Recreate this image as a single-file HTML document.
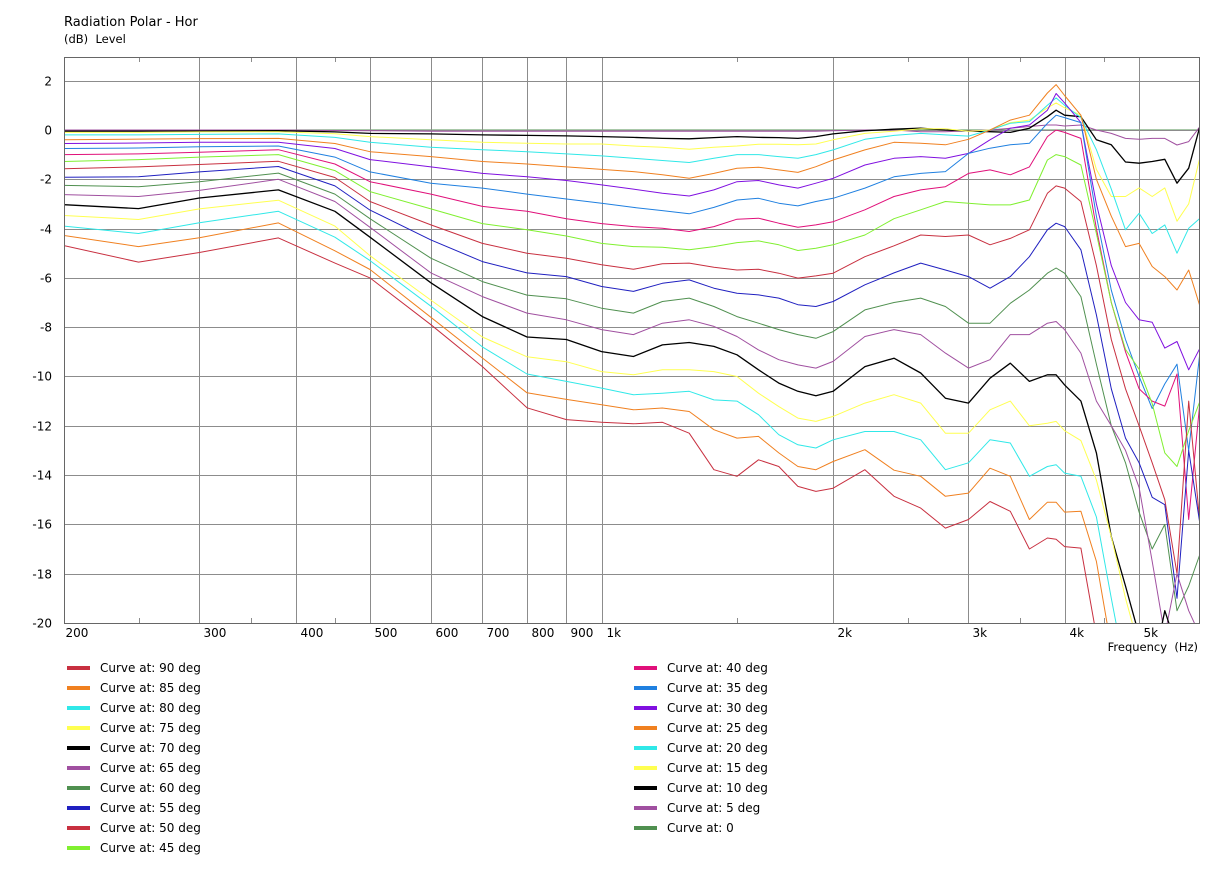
<!DOCTYPE html>
<html><head><meta charset="utf-8"><style>
body{margin:0;background:#fff;}
svg{display:block;font-family:"DejaVu Sans","Liberation Sans",sans-serif;}
</style></head><body>
<svg id="chart" width="1222" height="879" viewBox="0 0 1222 879" xmlns="http://www.w3.org/2000/svg">
<rect width="1222" height="879" fill="#fff"/>
<text x="64" y="26" font-size="13" fill="#000">Radiation Polar - Hor</text>
<text x="64" y="43" font-size="11.5" fill="#000" xml:space="preserve">(dB)  Level</text>
<text x="1198" y="651" font-size="11.5" fill="#000" text-anchor="end" xml:space="preserve">Frequency  (Hz)</text>
<defs><clipPath id="plotclip"><rect x="64" y="57" width="1136" height="566"/></clipPath></defs>
<g id="under" clip-path="url(#plotclip)"></g>
<g id="grid"></g>
<g id="series" clip-path="url(#plotclip)"></g>
<rect x="64.5" y="57.5" width="1135" height="566" fill="none" stroke="#666" stroke-width="1"/>
<g id="legend"></g>
</svg>
<script>
const freqs = [200,250,300,380,450,500,600,700,800,900,1000,1100,1200,1300,1400,1500,1600,1700,1800,1900,2000,2200,2400,2600,2800,3000,3200,3400,3600,3800,3900,4000,4200,4400,4600,4800,5000,5200,5400,5600,5800,6000];
const yTicks = [2,0,-2,-4,-6,-8,-10,-12,-14,-16,-18,-20];
const xTickVals = [200,300,400,500,600,700,800,900,1000,2000,3000,4000,5000];
const xTickLabels = ["200","300","400","500","600","700","800","900","1k","2k","3k","4k","5k"];
const minorTicks = [250,350,450,1500,2500,3500,4500];
const angles = [90,85,80,75,70,65,60,55,50,45,40,35,30,25,20,15,10,5,0];
const colors = ["#c83040","#f08020","#30e8e8","#ffff50","#000000","#a050a0","#509050","#2020c0","#c83040","#80f030","#e0107a","#2080e0","#8010e0","#f08020","#30e8e8","#ffff50","#000000","#a050a0","#509050"];
const c90 = [-4.69,-5.36,-4.97,-4.38,-5.4,-6.0,-7.9,-9.6,-11.27,-11.75,-11.86,-11.92,-11.86,-12.3,-13.78,-14.05,-13.38,-13.65,-14.46,-14.66,-14.53,-13.78,-14.86,-15.34,-16.15,-15.8,-15.07,-15.47,-17.0,-16.55,-16.6,-16.9,-16.96,-20.5,-22,-22,-22,-22,-22,-22,-22,-22];
const c85 = [-4.28,-4.73,-4.37,-3.77,-4.9,-5.66,-7.6,-9.25,-10.66,-10.93,-11.15,-11.35,-11.28,-11.42,-12.16,-12.5,-12.43,-13.1,-13.65,-13.78,-13.45,-12.97,-13.8,-14.05,-14.86,-14.73,-13.72,-14.05,-15.8,-15.1,-15.1,-15.5,-15.47,-17.5,-21,-22,-22,-22,-22,-22,-22,-22];
const c80 = [-3.9,-4.2,-3.76,-3.3,-4.35,-5.3,-7.15,-8.8,-9.9,-10.2,-10.47,-10.74,-10.68,-10.6,-10.95,-11.0,-11.55,-12.36,-12.77,-12.9,-12.57,-12.23,-12.23,-12.57,-13.78,-13.5,-12.57,-12.7,-14.05,-13.65,-13.58,-13.92,-14.05,-15.7,-19,-22,-22,-22,-22,-22,-22,-22];
const c75 = [-3.47,-3.63,-3.2,-2.85,-3.9,-5.1,-6.9,-8.4,-9.2,-9.4,-9.8,-9.93,-9.73,-9.73,-9.8,-10.0,-10.68,-11.22,-11.69,-11.82,-11.62,-11.08,-10.74,-11.08,-12.3,-12.3,-11.35,-11.0,-12.0,-11.9,-11.82,-12.2,-12.6,-14.2,-16.5,-19,-21,-21,-21,-21,-20.5,-21];
const c70 = [-3.03,-3.19,-2.76,-2.43,-3.3,-4.35,-6.2,-7.57,-8.4,-8.5,-8.99,-9.19,-8.72,-8.62,-8.78,-9.12,-9.73,-10.27,-10.6,-10.78,-10.6,-9.6,-9.26,-9.86,-10.88,-11.08,-10.07,-9.46,-10.2,-9.93,-9.93,-10.34,-11.0,-13.1,-16.5,-18.5,-20.5,-22,-19.5,-21,-21,-21];
const c65 = [-2.62,-2.7,-2.45,-2.0,-2.9,-3.95,-5.8,-6.76,-7.43,-7.7,-8.1,-8.3,-7.84,-7.7,-7.97,-8.38,-8.92,-9.32,-9.53,-9.66,-9.39,-8.38,-8.1,-8.3,-9.05,-9.66,-9.32,-8.3,-8.3,-7.84,-7.77,-8.1,-9.05,-11.0,-12.0,-13.0,-14.5,-17.5,-20.5,-18.0,-19.5,-20.5];
const c60 = [-2.25,-2.3,-2.1,-1.75,-2.6,-3.6,-5.2,-6.15,-6.7,-6.85,-7.23,-7.43,-6.96,-6.82,-7.16,-7.57,-7.84,-8.1,-8.3,-8.45,-8.18,-7.3,-7.0,-6.82,-7.16,-7.84,-7.84,-7.03,-6.49,-5.81,-5.6,-5.81,-6.76,-9.5,-12.0,-13.5,-15.5,-17.0,-16.0,-19.5,-18.5,-17.2];
const c55 = [-1.92,-1.9,-1.7,-1.48,-2.27,-3.25,-4.46,-5.34,-5.8,-5.95,-6.35,-6.55,-6.22,-6.08,-6.42,-6.62,-6.69,-6.82,-7.09,-7.16,-6.96,-6.28,-5.8,-5.4,-5.68,-5.95,-6.42,-5.95,-5.14,-4.05,-3.78,-3.92,-4.86,-7.5,-10.5,-12.5,-13.5,-14.9,-15.2,-19,-13,-16];
const c50 = [-1.57,-1.5,-1.4,-1.27,-1.93,-2.9,-3.85,-4.6,-5.0,-5.2,-5.47,-5.65,-5.43,-5.4,-5.57,-5.68,-5.65,-5.81,-6.01,-5.92,-5.81,-5.14,-4.7,-4.26,-4.32,-4.26,-4.66,-4.4,-4.05,-2.57,-2.27,-2.36,-2.9,-5.5,-8.5,-10.5,-12,-13.5,-15,-18,-11,-16];
const c45 = [-1.28,-1.2,-1.1,-1.0,-1.65,-2.5,-3.2,-3.8,-4.05,-4.3,-4.6,-4.73,-4.76,-4.86,-4.73,-4.57,-4.5,-4.66,-4.89,-4.8,-4.66,-4.26,-3.6,-3.24,-2.9,-2.97,-3.04,-3.04,-2.84,-1.22,-1.0,-1.08,-1.42,-4.2,-7.0,-8.9,-9.7,-11.1,-13.1,-13.65,-12.2,-11];
const c40 = [-1.0,-0.97,-0.9,-0.8,-1.38,-2.1,-2.6,-3.1,-3.3,-3.6,-3.8,-3.92,-3.99,-4.12,-3.92,-3.62,-3.58,-3.78,-3.95,-3.85,-3.72,-3.24,-2.7,-2.43,-2.3,-1.76,-1.62,-1.82,-1.5,-0.27,0,-0.1,-0.34,-4.0,-7.0,-9.0,-10.5,-11.0,-11.2,-9.9,-15.8,-11];
const c35 = [-0.75,-0.73,-0.68,-0.65,-1.1,-1.7,-2.16,-2.36,-2.6,-2.8,-2.97,-3.14,-3.27,-3.4,-3.14,-2.84,-2.77,-2.97,-3.08,-2.9,-2.77,-2.36,-1.9,-1.76,-1.69,-0.95,-0.74,-0.6,-0.54,0.27,0.6,0.5,0.3,-3.5,-6.5,-8.5,-10.0,-11.3,-10.3,-9.5,-13,-9];
const c30 = [-0.55,-0.53,-0.5,-0.5,-0.75,-1.2,-1.5,-1.76,-1.9,-2.05,-2.23,-2.4,-2.57,-2.68,-2.43,-2.1,-2.05,-2.23,-2.36,-2.16,-1.96,-1.42,-1.15,-1.08,-1.15,-0.95,-0.4,0.07,0.2,0.8,1.48,1.1,0.3,-3.0,-5.5,-7.0,-7.7,-7.8,-8.85,-8.58,-9.73,-8.85];
const c25 = [-0.4,-0.37,-0.35,-0.34,-0.55,-0.88,-1.08,-1.28,-1.38,-1.5,-1.6,-1.69,-1.82,-1.96,-1.76,-1.55,-1.51,-1.62,-1.72,-1.49,-1.22,-0.81,-0.5,-0.54,-0.6,-0.38,0,0.4,0.6,1.5,1.84,1.4,0.6,-2.0,-3.5,-4.73,-4.6,-5.54,-5.95,-6.49,-5.68,-7.16];
const c20 = [-0.2,-0.2,-0.18,-0.16,-0.3,-0.5,-0.7,-0.8,-0.88,-0.97,-1.05,-1.15,-1.24,-1.32,-1.15,-1.0,-1.0,-1.08,-1.15,-1.0,-0.81,-0.38,-0.22,-0.14,-0.2,-0.25,0,0.27,0.34,1.0,1.3,1.0,0.5,-0.8,-2.4,-4.05,-3.38,-4.2,-3.85,-5.0,-3.99,-3.58];
const c15 = [-0.1,-0.1,-0.08,-0.07,-0.15,-0.27,-0.4,-0.5,-0.54,-0.57,-0.57,-0.65,-0.7,-0.78,-0.7,-0.65,-0.58,-0.58,-0.6,-0.57,-0.4,-0.14,-0.05,0.05,0.05,-0.05,0,0.3,0.4,0.9,1.1,0.9,0.6,-1.6,-2.7,-2.7,-2.35,-2.7,-2.35,-3.7,-3.0,-1.1];
const c10 = [-0.05,-0.05,-0.04,-0.03,-0.08,-0.14,-0.16,-0.2,-0.22,-0.24,-0.27,-0.3,-0.34,-0.36,-0.31,-0.27,-0.3,-0.31,-0.34,-0.27,-0.16,-0.03,0.03,0.07,0,-0.04,-0.07,-0.1,0.07,0.54,0.8,0.6,0.54,-0.4,-0.6,-1.3,-1.35,-1.28,-1.19,-2.16,-1.55,0.16];
const c5 = [0,0,0,0,-0.02,-0.03,-0.05,-0.05,-0.05,-0.05,-0.05,-0.05,-0.05,-0.05,-0.05,-0.05,-0.05,-0.05,-0.05,-0.05,-0.03,0,0,-0.07,-0.07,-0.03,0,0.07,0.14,0.2,0.2,0.16,0.2,0,-0.14,-0.34,-0.38,-0.34,-0.34,-0.61,-0.47,0.14];
const c0 = [0,0,0,0,0,0,0,0,0,0,0,0,0,0,0,0,0,0,0,0,0,0,0,0,0,0,0,0,0,0,0,0,0,0,0,0,0,0,0,0,0,0];
const seriesValues = [c90,c85,c80,c75,c70,c65,c60,c55,c50,c45,c40,c35,c30,c25,c20,c15,c10,c5,c0];

const NS = "http://www.w3.org/2000/svg";
const X0 = 64, X1 = 1200, Y0 = 57, Y1 = 623, FMIN = 200, FMAX = 6000, DMAX = 2.96, DMIN = -20;
function xScale(f){ return X0 + Math.log(f/FMIN)/Math.log(FMAX/FMIN)*(X1-X0); }
function yScale(d){ return Y0 + (DMAX-d)/(DMAX-DMIN)*(Y1-Y0); }
function mk(tag, attrs, parent){ const e=document.createElementNS(NS,tag); for(const k in attrs) e.setAttribute(k,attrs[k]); parent.appendChild(e); return e; }

const grid = document.getElementById('grid');
yTicks.forEach(function(v){
  const y = Math.round(yScale(v))+0.5;
  if (v > DMIN) {
    const l = mk('line',{x1:X0,x2:X1,y1:y,y2:y,stroke:'#8c8c8c','stroke-width':1},grid);
    
    
  }
  const t = mk('text',{x:52,y:y+4,'font-size':12,'text-anchor':'end',fill:'#000'},grid);
  
  
  t.textContent = String(v);
});
xTickVals.forEach(function(f,i){
  const x = Math.round(xScale(f))+0.5;
  if (i > 0) {
    const l = mk('line',{x1:x,x2:x,y1:Y0,y2:Y1,stroke:'#8c8c8c','stroke-width':1},grid);
    
    
  }
  const t = mk('text',{x:x+(i===0?1:4),y:637,'font-size':12,fill:'#000'},grid);
  
  
  t.textContent = xTickLabels[i];
});
minorTicks.forEach(function(f){
  const x = Math.round(xScale(f))+0.5;
  const a = mk('line',{x1:x,x2:x,y1:Y1-5,y2:Y1,stroke:'#8c8c8c','stroke-width':1},grid);
  
  
  const b = mk('line',{x1:x,x2:x,y1:Y0,y2:Y0+5,stroke:'#8c8c8c','stroke-width':1},grid);
  
  
});

const sg = document.getElementById('series');
const ug = document.getElementById('under');
for (let s = seriesValues.length-1; s >= 0; s--) {
  const vals = seriesValues[s];
  const pts = freqs.map(function(f,i){ return xScale(f).toFixed(1)+','+yScale(vals[i]).toFixed(1); }).join(' ');
  const black = colors[s] === '#000000';
  const parent = angles[s] === 0 ? ug : sg;
  const p = mk('polyline',{points:pts,fill:'none',stroke:colors[s],'stroke-width':black?1.3:1,'stroke-linejoin':'round'},parent);
  
  
}

const lg = document.getElementById('legend');
angles.forEach(function(a,i){
  const col = i < 10 ? 0 : 1;
  const row = i < 10 ? i : i-10;
  const sx = col===0 ? 67 : 634;
  const y = 668 + row*20;
  const g = mk('g',{},lg);
  
  
  mk('rect',{x:sx,y:y-2,width:23,height:4,fill:colors[i]},g);
  const t = mk('text',{x:sx+33,y:y+4,'font-size':12,fill:'#000'},g);
  t.textContent = 'Curve at: ' + (a===0 ? '0' : a+' deg');
});
</script>
</body></html>
